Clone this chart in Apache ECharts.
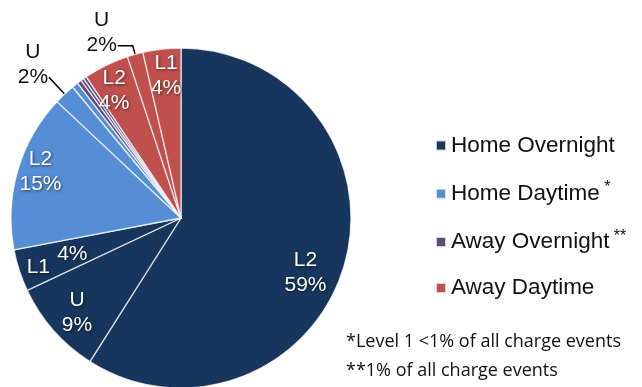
<!DOCTYPE html>
<html>
<head>
<meta charset="utf-8">
<script src="https://cdn.jsdelivr.net/npm/echarts@6/dist/echarts.min.js"></script>
<style>
  html, body { margin: 0; padding: 0; background: #fff; }
  #chart { width: 642px; height: 387px; }
</style>
</head>
<body>
<div id="chart"></div>
<script>
// legend groups and their colours
var groups = ['Home Overnight', 'Home Daytime', 'Away Overnight', 'Away Daytime'];
var groupColors = ['#17365d', '#558ed5', '#604a7b', '#c0504d'];

// slices, clockwise from 12 o'clock
var sliceGroup = [0, 0, 0, 1, 1, 1, 2, 2, 2, 3, 3, 3];
var sliceLevel = ['L2', 'U', 'L1', 'L2', 'U', 'L1', 'L2', 'U', 'L1', 'L2', 'U', 'L1'];
var sliceValue = [59, 9, 4, 15, 2, 0.6, 0.4, 0.3, 0.3, 4.3, 1.5, 3.6];
var sliceText  = ['59%', '9%', '4%', '15%', '2%', '', '', '', '', '4%', '2%', '4%'];

// label placement tweaks: inside labels -> [dx, dy], outside labels -> leader lengths
var labelShift = {
	0: [40, 30],
	1: [-38, 37],
	2: [-43, 16],
	3: [-56, -22],
	9: [-28, -48],
	11: [-5, -55]
};
var leader = {
	4: [23, 0],
	10: [9, 15]
};

var FONT = "'Liberation Sans', Arial, sans-serif";
var shadow = {
	textShadowColor: 'rgba(0,0,0,0.6)',
	textShadowBlur: 3,
	textShadowOffsetX: 1,
	textShadowOffsetY: 1
};

var myChart = echarts.init(document.getElementById('chart'));

var inLabel = Object.assign({
	show: true,
	position: 'inside',
	color: '#fff',
	fontFamily: FONT,
	fontSize: 21,
	lineHeight: 25
}, shadow);

var data = [];
for (var i = 0; i < sliceValue.length; i++) {
	var item = {
		name: groups[sliceGroup[i]],
		value: sliceValue[i],
		lvl: sliceLevel[i],
		txt: sliceText[i],
		itemStyle: { color: groupColors[sliceGroup[i]] }
	};
	if (leader[i]) {
		item.label = {
			show: true,
			position: 'outside',
			distanceToLabelLine: 1,
			formatter: function(p) { return '{c|' + p.data.lvl + '}\n{c|' + p.data.txt + '}\n{c| }'; },
			rich: {
				c: { width: 30, align: 'center', color: '#111', fontFamily: FONT, fontSize: 21, lineHeight: 25 }
			}
		};
		item.labelLine = { show: true, length: leader[i][0], length2: leader[i][1], lineStyle: { color: '#000', width: 1.5 } };
	} else if (!labelShift[i]) {
		item.label = { show: false };
		item.labelLine = { show: false };
	} else if (i === 2) {
		item.label = Object.assign({}, inLabel, {
			formatter: '{r|4%}\n{l|L1}',
			rich: {
				r: Object.assign({ color: '#fff', fontFamily: FONT, fontSize: 21, lineHeight: 13, padding: [0, 0, 0, 36] }, shadow),
				l: Object.assign({ color: '#fff', fontFamily: FONT, fontSize: 21, lineHeight: 13, padding: [0, 32, 0, 0] }, shadow)
			}
		});
		item.labelLine = { show: false };
	} else {
		item.label = inLabel;
		item.labelLine = { show: false };
	}
	data.push(item);
}

myChart.setOption({
	animation: false,
	legend: {
		orient: 'vertical',
		left: 430,
		top: 129,
		itemWidth: 10,
		itemHeight: 10,
		itemGap: 22.8,
		icon: 'rect',
		data: groups,
		selectedMode: false,
		formatter: function(name) {
			if (name === 'Home Daytime') return name + '{s| *}';
			if (name === 'Away Overnight') return name + '{s| **}';
			return name;
		},
		textStyle: {
			fontFamily: FONT,
			fontSize: 22.5,
			color: '#111',
			rich: {
				s: { fontSize: 16, color: '#111', fontFamily: FONT, padding: [0, 0, 12, 0] }
			}
		}
	},
	graphic: [
		{ type: 'text', left: 346, top: 333, style: { text: '*Level 1 <1% of all charge events', font: "18px 'Open Sans'", fill: '#111' } },
		{ type: 'text', left: 346, top: 362, style: { text: '**1% of all charge events', font: "18px 'Open Sans'", fill: '#111' } }
	],
	series: [
		{
			type: 'pie',
			center: [181, 218],
			radius: 170,
			startAngle: 90,
			clockwise: true,
			avoidLabelOverlap: false,
			itemStyle: { borderColor: 'rgba(255,255,255,0.75)', borderWidth: 1.3 },
			label: {
				formatter: function(p) { return p.data.lvl + '\n' + p.data.txt; }
			},
			labelLayout: function(p) {
				var sh = labelShift[p.dataIndex];
				if (!sh) return {};
				return { dx: sh[0], dy: sh[1] };
			},
			emphasis: { disabled: true },
			data: data
		}
	]
});
</script>
</body>
</html>
